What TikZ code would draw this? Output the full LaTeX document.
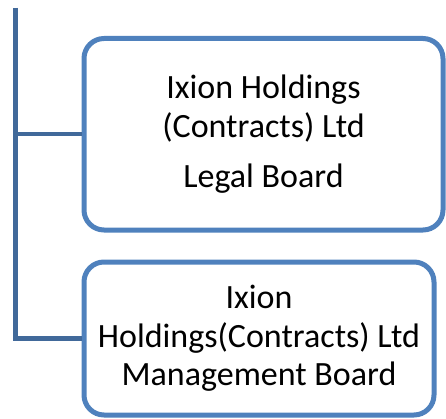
\documentclass[tikz,border=0pt]{standalone}
\usepackage{fontspec}
\setmainfont{Carlito}
\definecolor{boxblue}{HTML}{4F81BD}
\definecolor{linkblue}{HTML}{41699A}
\begin{document}
\begin{tikzpicture}[x=1pt,y=1pt,
  orgbox/.style={draw=boxblue, line width=5pt, rounded corners=20pt, align=center, inner sep=0pt,
    font=\fontsize{34}{38.5}\selectfont},
  link/.style={draw=linkblue, line width=4.5pt}]
\useasboundingbox (0,0) rectangle (446,418);
\node[orgbox, minimum width=359pt, minimum height=191.5pt] (legal) at (263.5,283.75)
  {Ixion Holdings\\(Contracts) Ltd\\[12pt]Legal Board};
\node[orgbox, minimum width=350pt, minimum height=153pt] (mgmt) at (259,79.5)
  {Ixion\\Holdings(Contracts) Ltd\\Management Board};
\coordinate (top) at (15.5,410);
\draw[link] (top) |- (legal.west);
\draw[link] (top) |- (mgmt.west);
\end{tikzpicture}
\end{document}
